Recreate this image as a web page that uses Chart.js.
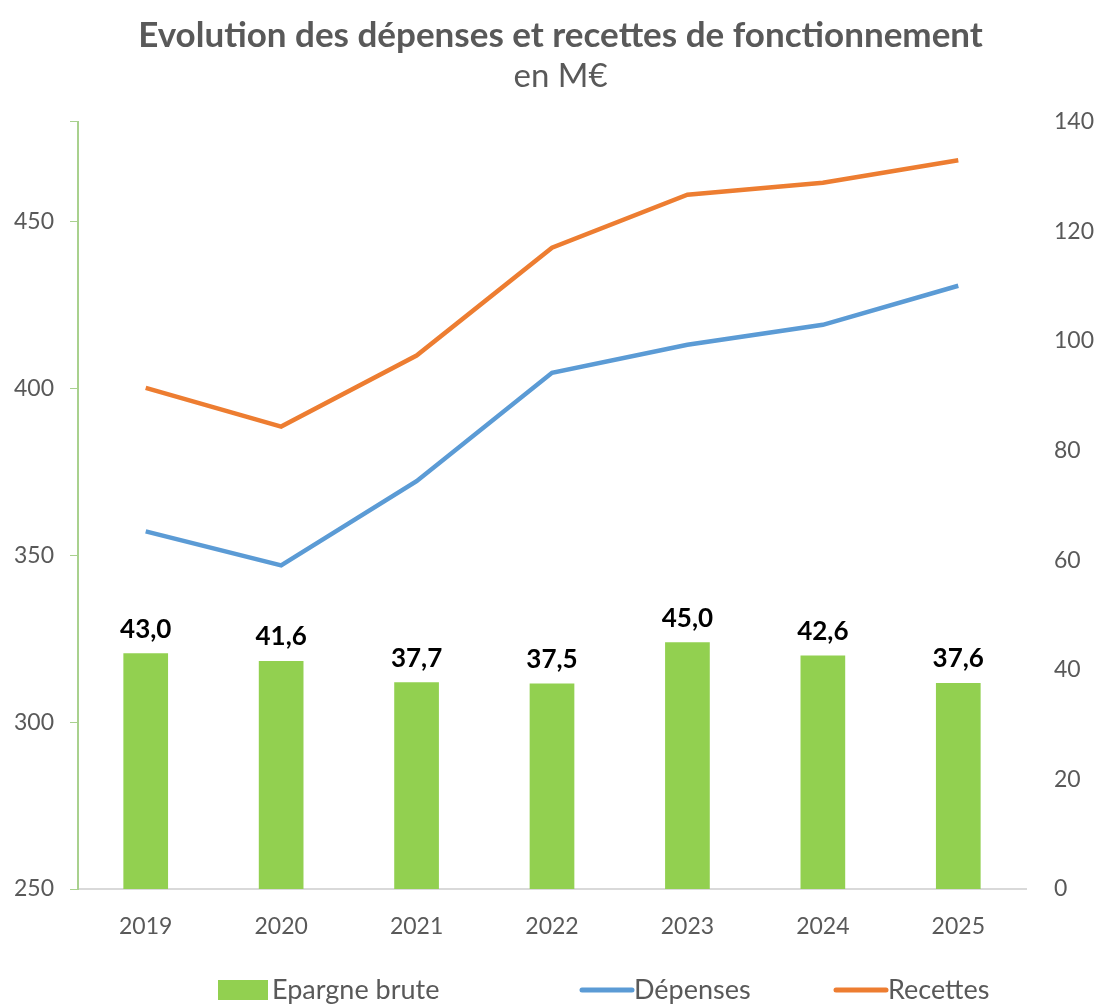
<!DOCTYPE html>
<html>
<head>
  <meta charset="UTF-8">
  <title>Evolution des dépenses et recettes de fonctionnement</title>
  <script src="https://cdn.jsdelivr.net/npm/chart.js"></script>
  <style>
    body { margin: 0; background: #fff; }
    #wrap { width: 1097px; height: 1005px; }
  </style>
</head>
<body>
  <div id="wrap"><canvas id="chart"></canvas></div>

  <script>
    const years = ['2019', '2020', '2021', '2022', '2023', '2024', '2025'];
    const epargne = [43.0, 41.6, 37.7, 37.5, 45.0, 42.6, 37.6];
    const depenses = [357.2, 347.0, 372.2, 404.7, 413.1, 419.1, 430.8];
    const recettes = [400.2, 388.6, 409.9, 442.2, 458.1, 461.7, 468.4];

    const grey = '#595959';
    const font = 'Lato, "Open Sans", sans-serif';

    // value labels above the bars
    const barLabels = {
      id: 'barLabels',
      afterDatasetsDraw(chart) {
        const ctx = chart.ctx;
        const meta = chart.getDatasetMeta(0);
        ctx.save();
        ctx.font = 'bold 26px ' + font;
        ctx.fillStyle = '#000';
        ctx.textAlign = 'center';
        ctx.textBaseline = 'bottom';
        meta.data.forEach((bar, i) => {
          ctx.fillText(epargne[i].toFixed(1).replace('.', ','), bar.x, bar.y - 11);
        });
        ctx.restore();
      }
    };

    // title and subtitle sit a bit right of the canvas centre in the original
    const shiftTitles = {
      id: 'shiftTitles',
      afterLayout(chart) {
        chart.boxes.forEach(b => {
          if (b.options && typeof b.options.text === 'string') {
            b.left += 12;
            b.right += 12;
          }
        });
      }
    };

    // legend drawn by hand so the items sit where the original puts them
    const bottomLegend = {
      id: 'bottomLegend',
      afterDraw(chart) {
        const ctx = chart.ctx;
        const y = 990;
        const items = chart.data.datasets.map(ds => ({
          text: ds.label,
          color: ds.type === 'line' ? ds.borderColor : ds.backgroundColor,
          line: ds.type === 'line'
        }));
        const xs = [218, 580, 834];
        ctx.save();
        ctx.font = '27px ' + font;
        ctx.fillStyle = grey;
        ctx.textBaseline = 'middle';
        items.forEach((it, i) => {
          const x = xs[i];
          if (it.line) {
            ctx.strokeStyle = it.color;
            ctx.lineWidth = 5;
            ctx.lineCap = 'round';
            ctx.beginPath();
            ctx.moveTo(x + 2, y);
            ctx.lineTo(x + 52, y);
            ctx.stroke();
          } else {
            ctx.fillStyle = it.color;
            ctx.fillRect(x, y - 10, 50, 20);
          }
          ctx.fillStyle = grey;
          ctx.fillText(it.text, x + 54, y);
        });
        ctx.restore();
      }
    };

    new Chart(document.getElementById('chart'), {
      type: 'bar',
      data: {
        labels: years,
        datasets: [
          {
            label: 'Epargne brute',
            data: epargne,
            backgroundColor: '#92D050',
            yAxisID: 'y1',
            barPercentage: 0.33,
            categoryPercentage: 1,
            order: 2
          },
          {
            type: 'line',
            label: 'Dépenses',
            data: depenses,
            borderColor: '#5B9BD5',
            backgroundColor: '#5B9BD5',
            borderWidth: 4.5,
            pointRadius: 0,
            yAxisID: 'y',
            order: 1
          },
          {
            type: 'line',
            label: 'Recettes',
            data: recettes,
            borderColor: '#ED7D31',
            backgroundColor: '#ED7D31',
            borderWidth: 4.5,
            pointRadius: 0,
            yAxisID: 'y',
            order: 0
          }
        ]
      },
      options: {
        responsive: true,
        maintainAspectRatio: false,
        animation: false,
        layout: { padding: { top: 11, bottom: 56 } },
        plugins: {
          tooltip: { enabled: false },
          legend: { display: false },
          title: {
            display: true,
            text: 'Evolution des dépenses et recettes de fonctionnement',
            color: grey,
            font: { family: font, size: 35, weight: 'bold' },
            padding: { top: 4, bottom: 0 }
          },
          subtitle: {
            display: true,
            text: 'en M€',
            color: grey,
            font: { family: font, size: 33 },
            padding: { bottom: 25 }
          }
        },
        scales: {
          x: {
            grid: { display: false },
            border: { color: '#d9d9d9', width: 2 },
            ticks: { color: grey, font: { family: font, size: 23 }, padding: 16 },
            afterFit(scale) { scale.height = 60; }
          },
          y: {
            position: 'left',
            min: 250,
            max: 480,
            ticks: {
              stepSize: 50,
              color: grey,
              font: { family: font, size: 23 },
              padding: 16,
              callback: v => v % 50 === 0 ? v : ''
            },
            grid: { drawOnChartArea: false, drawTicks: true, tickLength: 8, color: '#A9D18E' },
            border: { color: '#A9D18E', width: 2 },
            afterFit(scale) { scale.width = 78; }
          },
          y1: {
            position: 'right',
            min: 0,
            max: 140,
            ticks: {
              stepSize: 20,
              color: grey,
              font: { family: font, size: 23 },
              padding: 20
            },
            grid: { display: false },
            border: { display: false },
            afterFit(scale) { scale.width = 71; }
          }
        }
      },
      plugins: [barLabels, shiftTitles, bottomLegend]
    });
  </script>
</body>
</html>
